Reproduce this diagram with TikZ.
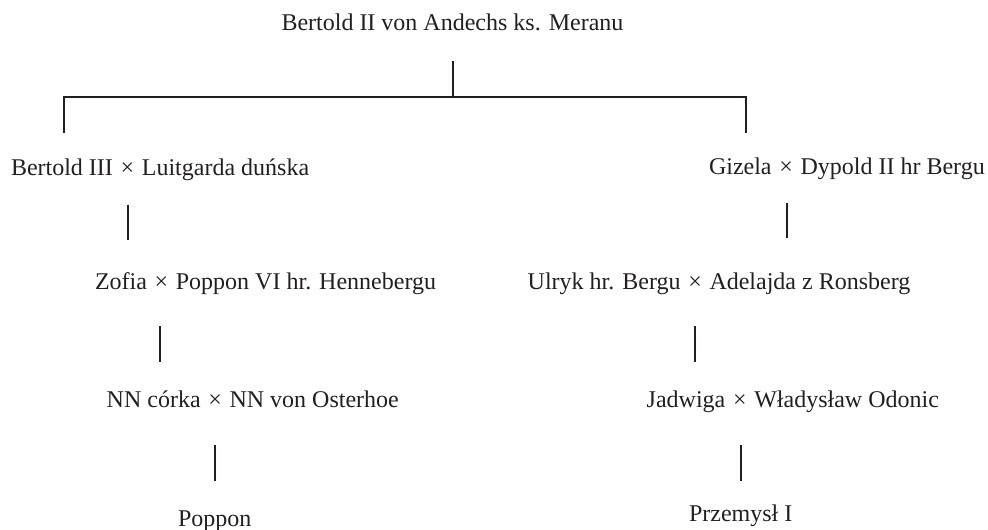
\documentclass[tikz,border=0pt]{standalone}
\usepackage{fontspec}
\setmainfont{Liberation Serif}
\definecolor{ink}{HTML}{231F20}
% marriage sign with a little extra room on each side
\newcommand\wed{\kern1.7pt×\kern1.7pt}
\begin{document}
\begin{tikzpicture}[x=1pt,y=-1pt,
  person/.style={anchor=base west,inner sep=0pt,outer sep=0pt,text=ink,
    font=\fontsize{24}{28}\selectfont},
  link/.style={draw=ink,line width=1.8pt}]
\useasboundingbox (0,0) rectangle (988,530);

% people
\node[person] (root) at (281.5,30.7) {Bertold II von Andechs ks. Meranu};
\node[person] (b3)   at (11,175)    {Bertold III \wed{} Luitgarda duńska};
\node[person] (giz)  at (709,174)   {Gizela \wed{} Dypold II hr Bergu};
\node[person] (zof)  at (95,289.3)  {Zofia \wed{} Poppon VI hr. Hennebergu};
\node[person] (ulr)  at (527.7,289.3) {Ulryk hr. Bergu \wed{} Adelajda z Ronsberg};
\node[person] (nn)   at (106.7,407.7) {NN córka \wed{} NN von Osterhoe};
\node[person] (jad)  at (646.7,407.7) {Jadwiga \wed{} Władysław Odonic};
\node[person] (pop)  at (178,526.7) {Poppon};
\node[person] (prz)  at (689,521.7) {Przemysł I};

% line ends
\coordinate (r0) at (452.7,60.7);
\coordinate (r1) at (452.7,96.7);
\coordinate (bl) at (64,96.7);
\coordinate (bl1) at (64,133);
\coordinate (br) at (745.7,96.7);
\coordinate (br1) at (745.7,132.7);
\coordinate (l1a) at (128.3,204.7);
\coordinate (l1b) at (128.3,240.3);
\coordinate (r1a) at (786.7,202.7);
\coordinate (r1b) at (786.7,238.3);
\coordinate (l2a) at (160.3,326);
\coordinate (l2b) at (160.3,361.7);
\coordinate (r2a) at (695,326);
\coordinate (r2b) at (695,361.7);
\coordinate (l3a) at (215,445);
\coordinate (l3b) at (215,480.7);
\coordinate (r3a) at (740.7,445);
\coordinate (r3b) at (740.7,480.7);

% connectors
\draw[link] (r0) -- (r1);
\draw[link] (bl1) -- (bl) -- (br) -- (br1);
\draw[link] (l1a) -- (l1b);
\draw[link] (r1a) -- (r1b);
\draw[link] (l2a) -- (l2b);
\draw[link] (r2a) -- (r2b);
\draw[link] (l3a) -- (l3b);
\draw[link] (r3a) -- (r3b);
\end{tikzpicture}
\end{document}
